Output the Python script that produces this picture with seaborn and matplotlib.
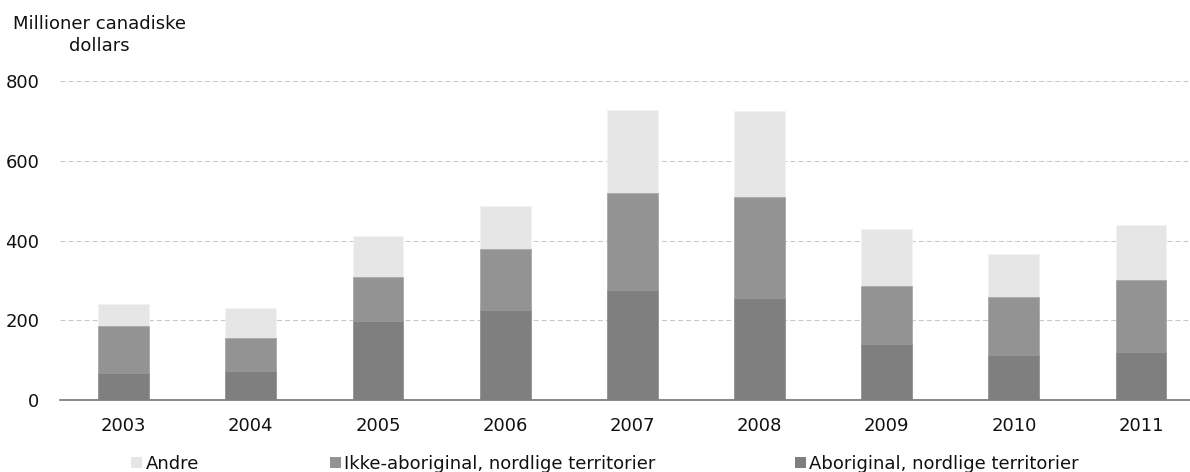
import matplotlib
matplotlib.use("Agg")
import matplotlib.pyplot as plt
from matplotlib.patches import Patch
import numpy as np
import pandas as pd
import seaborn as sns

# Millioner canadiske dollars per år
years = ["2003", "2004", "2005", "2006", "2007", "2008", "2009", "2010", "2011"]
aboriginal = [67, 73, 197, 225, 277, 255, 141, 112, 121]
ikke_aboriginal = [118, 82, 112, 153, 243, 254, 145, 147, 180]
andre = [57, 76, 102, 109, 207, 215, 144, 106, 137]

series_names = ["Andre", "Ikke-aboriginal, nordlige territorier", "Aboriginal, nordlige territorier"]
colors = {"Andre": "#e6e6e6",
          "Ikke-aboriginal, nordlige territorier": "#939393",
          "Aboriginal, nordlige territorier": "#7f7f7f"}
edges = {"Andre": "#f2f2f2",
         "Ikke-aboriginal, nordlige territorier": "#a9a9a9",
         "Aboriginal, nordlige territorier": "#999999"}
y_ticks = [0, 200, 400, 600, 800]

sns.set_theme(style="white")
plt.rcParams["font.family"] = ["DejaVu Sans"]
FS = 13

df = pd.DataFrame({"år": years,
                   "Aboriginal, nordlige territorier": aboriginal,
                   "Ikke-aboriginal, nordlige territorier": ikke_aboriginal,
                   "Andre": andre})
# stacked tops: bottom segment first
df["top_ab"] = df["Aboriginal, nordlige territorier"]
df["top_ikke"] = df["top_ab"] + df["Ikke-aboriginal, nordlige territorier"]
df["top_andre"] = df["top_ikke"] + df["Andre"]

fig = plt.figure(figsize=(11.9, 4.72), dpi=100)
ax = fig.add_axes([60 / 1190, 72 / 472, 1130 / 1190, 319 / 472])

# draw tallest layer first so each lower layer overlays it
for name, col in [("Andre", "top_andre"),
                  ("Ikke-aboriginal, nordlige territorier", "top_ikke"),
                  ("Aboriginal, nordlige territorier", "top_ab")]:
    sns.barplot(data=df, x="år", y=col, order=years, color=colors[name],
                saturation=1, width=0.4, edgecolor=edges[name], linewidth=0.6,
                ax=ax, zorder=3)

ax.set_xlim(-0.5, 8.385)
ax.set_ylim(0, 800)
ax.set_yticks(y_ticks)
ax.set_yticklabels([str(v) for v in y_ticks], fontsize=FS, color="#111111")
ax.set_xticks(range(len(years)))
ax.set_xticklabels(years, fontsize=FS, color="#111111")
ax.set_xlabel("")
ax.set_ylabel("")
ax.tick_params(axis="y", length=0, pad=15)
ax.tick_params(axis="x", length=0, pad=12)

for v in y_ticks[1:]:
    ax.axhline(v, color="#c8c8c8", lw=0.75, ls=(0, (4.8, 2.9)), zorder=1)

for s in ["top", "right", "left"]:
    ax.spines[s].set_visible(False)
ax.spines["bottom"].set_color("#7f7f7f")
ax.spines["bottom"].set_linewidth(1.3)
ax.spines["bottom"].set_zorder(4)

fig.text(99.5 / 1190, 1 - 35 / 472, "Millioner canadiske\ndollars", ha="center", va="center",
         multialignment="center", fontsize=FS, color="#111111", linespacing=1.3)

# legend entries placed in fixed columns along the bottom
legend_x = [131, 330, 795]
for name, xpx in zip(series_names, legend_x):
    fig.legend(handles=[Patch(facecolor=colors[name], edgecolor="none")], labels=[name],
               loc="center left", bbox_to_anchor=(xpx / 1190, 1 - 464 / 472),
               frameon=False, fontsize=FS, handlelength=0.6, handleheight=0.6,
               handletextpad=0.2, borderpad=0, borderaxespad=0, labelcolor="#111111")

fig.savefig("out.png", dpi=100)
